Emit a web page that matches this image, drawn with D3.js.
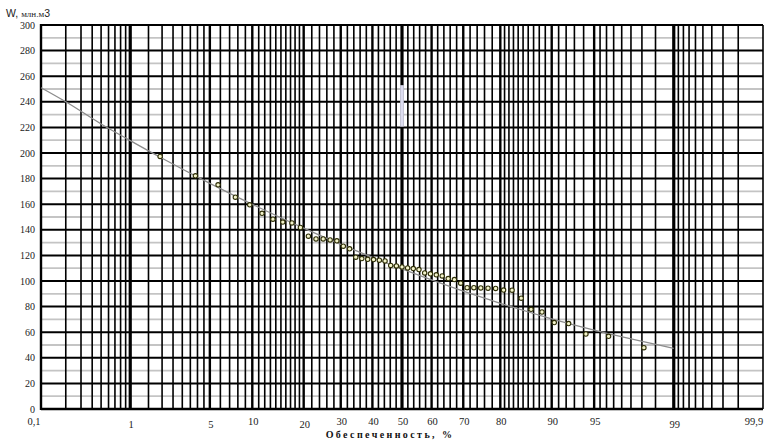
<!DOCTYPE html>
<html><head><meta charset="utf-8">
<script src="https://cdn.jsdelivr.net/npm/d3@7"></script>
<style>html,body{margin:0;padding:0;background:#fff;}svg{display:block;}</style>
</head><body>
<svg id="chart" width="770" height="446"></svg>
<script>
// ---- data ----
const probObs = [1.92,3.85,5.77,7.69,9.62,11.54,13.46,15.38,17.31,19.23,21.15,23.08,25.00,26.92,28.85,30.77,32.69,34.62,36.54,38.46,40.38,42.31,44.23,46.15,48.08,50.00,51.92,53.85,55.77,57.69,59.62,61.54,63.46,65.38,67.31,69.23,71.15,73.08,75.00,76.92,78.85,80.77,82.69,84.62,86.54,88.46,90.38,92.31,94.23,96.15,98.08];
const volObs = [197.3,182.2,175.1,165.5,159.5,152.9,148.3,146.0,145.4,141.8,135.0,132.9,132.9,132.1,131.4,127.2,125.1,118.6,117.5,116.9,116.7,116.3,115.7,112.2,111.8,111.0,110.2,109.7,108.9,106.3,105.6,104.8,104.0,101.9,101.1,98.3,94.8,94.8,94.6,94.4,94.2,92.9,92.8,86.6,77.9,75.8,67.5,66.7,58.6,56.8,47.9];
const probCurve = [0.1,0.2,0.5,1,2,5,10,20,30,40,50,60,70,80,90,95,99];
const volCurve  = [251.0,240.0,222.7,209.7,195.9,176.3,159.9,141.3,128.6,118.5,109.4,100.8,92.0,82.6,70.4,61.6,47.4];
const xTickVals   = [0.1,1,5,10,20,30,40,50,60,70,80,90,95,99,99.9];
const xTickLabels = ["0,1","1","5","10","20","30","40","50","60","70","80","90","95","99","99,9"];
const yTickVals   = [0,20,40,60,80,100,120,140,160,180,200,220,240,260,280,300];
const yMinorVals  = [10,30,50,70,90,110,130,150,170,190,210,230,250,270,290];
const xGridProbs = [].concat(
  [0.2,0.3,0.4,0.5,0.6,0.7,0.8,0.9,1],
  [1.5,2,2.5,3,3.5,4,4.5],
  d3.range(5,20,1),
  d3.range(20,80,2),
  d3.range(80,96,1),
  [95.5,96,96.5,97,97.5,98,98.5,99],
  [99.1,99.2,99.3,99.4,99.5,99.6,99.7,99.8,99.9]);
const xMajor = [1,50,99];
const xSemi = [5,10,20,30,40,60,70,80,90,95];

// ---- probability-paper transform ----
function probit(p){
  const a=[-3.969683028665376e+01,2.209460984245205e+02,-2.759285104469687e+02,1.383577518672690e+02,-3.066479806614716e+01,2.506628277459239e+00];
  const b=[-5.447609879822406e+01,1.615858368580409e+02,-1.556989798598866e+02,6.680131188771972e+01,-1.328068155288572e+01];
  const c=[-7.784894002430293e-03,-3.223964580411365e-01,-2.400758277161838e+00,-2.549732539343734e+00,4.374664141464968e+00,2.938163982698783e+00];
  const d=[7.784695709041462e-03,3.224671290700398e-01,2.445134137142996e+00,3.754408661907416e+00];
  const pl=0.02425, ph=1-pl; let q,r;
  if(p<pl){q=Math.sqrt(-2*Math.log(p));return (((((c[0]*q+c[1])*q+c[2])*q+c[3])*q+c[4])*q+c[5])/((((d[0]*q+d[1])*q+d[2])*q+d[3])*q+1);}
  if(p<=ph){q=p-0.5;r=q*q;return (((((a[0]*r+a[1])*r+a[2])*r+a[3])*r+a[4])*r+a[5])*q/(((((b[0]*r+b[1])*r+b[2])*r+b[3])*r+b[4])*r+1);}
  q=Math.sqrt(-2*Math.log(1-p));return -(((((c[0]*q+c[1])*q+c[2])*q+c[3])*q+c[4])*q+c[5])/((((d[0]*q+d[1])*q+d[2])*q+d[3])*q+1);
}
const L=41, R=763, T=25, B=409;
const zScale = d3.scaleLinear().domain([probit(0.001), probit(0.999)]).range([L, R]);
const x = p => zScale(probit(p/100));
const y = d3.scaleLinear().domain([0,300]).range([B,T]);

const svg = d3.select("#chart");
svg.append("rect").attr("width",770).attr("height",446).attr("fill","#fff");

// minor horizontal gray lines
svg.append("g").selectAll("line").data(yMinorVals).join("line")
  .attr("x1",L).attr("x2",R).attr("y1",d=>y(d)).attr("y2",d=>y(d))
  .attr("stroke","#c4c4c4").attr("stroke-width",1.8);

// vertical grid
svg.append("g").selectAll("line").data(xGridProbs).join("line")
  .attr("x1",d=>x(d)).attr("x2",d=>x(d)).attr("y1",T).attr("y2",B)
  .attr("stroke","#000")
  .attr("stroke-width",d=> xMajor.includes(d)?3.2:(xSemi.includes(d)?2.4:1.6));

// major horizontal lines
svg.append("g").selectAll("line").data(yTickVals).join("line")
  .attr("x1",L).attr("x2",R).attr("y1",d=>y(d)).attr("y2",d=>y(d))
  .attr("stroke","#000").attr("stroke-width",d=>d===0?2.4:2);

// left axis
svg.append("line").attr("x1",L).attr("x2",L).attr("y1",T-1).attr("y2",B+1)
  .attr("stroke","#000").attr("stroke-width",2.4);

// light artifact on 50% line
svg.append("rect").attr("x",x(50)-1.8).attr("y",y(253)).attr("width",3.6).attr("height",y(220.5)-y(253))
  .attr("fill","#dcdcf0");

// y tick labels
svg.append("g").selectAll("text").data(yTickVals).join("text")
  .attr("x",35).attr("y",d=>y(d)+3.5).attr("text-anchor","end")
  .attr("font-family","'Liberation Serif',serif").attr("font-size",10).attr("fill","#222")
  .text(d=>d);

// x tick labels
const lowered = ["1","5","20","99"];
svg.append("g").selectAll("text").data(xTickVals).join("text")
  .attr("x",(d,i)=> x(d) + (i===0?-7:(i===xTickVals.length-1?-9:1)))
  .attr("y",(d,i)=> lowered.includes(xTickLabels[i]) ? 428 : 425)
  .attr("text-anchor","middle")
  .attr("font-family","'Liberation Serif',serif").attr("font-size",10.5).attr("fill","#222")
  .text((d,i)=>xTickLabels[i]);

// axis titles
const yt = svg.append("text").attr("x",6).attr("y",17).attr("fill","#222");
yt.append("tspan").attr("font-family","'Liberation Sans',Arial,sans-serif").attr("font-size",10.5).text("W, ");
yt.append("tspan").attr("font-family","'Liberation Serif',serif").attr("font-size",9).text("млн.м");
yt.append("tspan").attr("font-family","'Liberation Sans',Arial,sans-serif").attr("font-size",10.5).text("3");

svg.append("text").attr("x",390).attr("y",438).attr("text-anchor","middle")
  .attr("font-family","'Liberation Serif',serif").attr("font-size",10).attr("font-weight","bold")
  .attr("letter-spacing",2.4).attr("fill","#111")
  .text("Обеспеченность, %");

// fitted curve
const curveData = probCurve.map((p,i)=>({p, v:volCurve[i]}));
svg.append("path").datum(curveData)
  .attr("d", d3.line().x(d=>x(d.p)).y(d=>y(d.v)).curve(d3.curveMonotoneX))
  .attr("fill","none").attr("stroke","#8c8c8c").attr("stroke-width",1.3);

// observed points
const obs = probObs.map((p,i)=>({p, v:volObs[i]}));
svg.append("g").selectAll("circle").data(obs).join("circle")
  .attr("cx",d=>x(d.p)).attr("cy",d=>y(d.v)).attr("r",2.2)
  .attr("fill","#f4f4cc").attr("stroke","#2e2e06").attr("stroke-width",1.1);
</script>
</body></html>
